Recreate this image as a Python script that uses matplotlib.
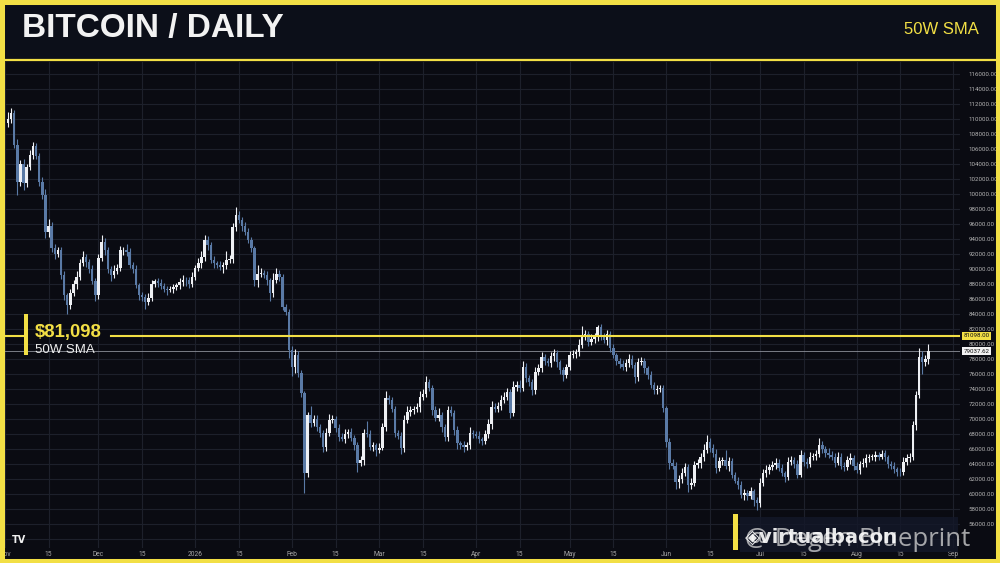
import matplotlib
matplotlib.use('Agg')
import matplotlib.pyplot as plt
import matplotlib.dates as mdates
from matplotlib.patches import Rectangle
from matplotlib.transforms import blended_transform_factory
import numpy as np
import pandas as pd

# daily closes, USD thousands, from 2 Nov 2025
closes = [
    110.0, 110.8, 106.5, 101.6, 104.0, 101.5, 103.6, 105.2, 106.4, 105.0,
    101.6, 99.9, 95.0, 95.8, 92.8, 92.0, 92.5, 89.2, 86.5, 85.2,
    86.8, 88.0, 89.0, 90.8, 91.6, 90.9, 90.0, 88.4, 86.5, 91.5,
    93.6, 92.5, 90.0, 89.2, 89.8, 90.2, 92.5, 92.6, 92.3, 90.5,
    90.0, 87.9, 86.5, 86.3, 85.6, 86.2, 88.0, 88.4, 88.2, 87.8,
    87.4, 87.2, 87.3, 87.6, 87.9, 88.3, 88.6, 88.5, 88.0, 89.0,
    90.1, 90.8, 91.6, 93.9, 93.2, 91.2, 90.8, 90.6, 90.3, 90.5,
    91.2, 91.4, 95.6, 97.2, 96.5, 95.7, 95.0, 93.9, 92.8, 88.5,
    89.4, 89.5, 89.2, 88.5, 86.8, 88.5, 89.4, 89.0, 85.0, 84.3,
    79.2, 77.0, 78.6, 76.1, 73.5, 62.8, 70.5, 69.5, 70.0, 69.0,
    68.1, 66.3, 68.2, 69.9, 70.0, 68.8, 67.6, 67.4, 68.0, 68.3,
    67.5, 66.5, 64.2, 64.5, 68.2, 68.0, 66.3, 66.5, 65.9, 66.2,
    69.0, 72.8, 72.5, 71.3, 68.2, 67.8, 66.1, 69.9, 71.0, 71.2,
    71.4, 71.6, 73.0, 73.4, 74.9, 74.2, 71.2, 70.2, 70.5, 69.0,
    67.6, 71.2, 70.8, 68.5, 66.8, 66.5, 66.3, 66.5, 68.1, 68.0,
    67.8, 67.3, 67.1, 68.0, 69.3, 71.6, 71.4, 71.8, 72.5, 73.0,
    73.6, 70.8, 74.3, 74.6, 74.2, 77.0, 75.5, 75.0, 73.9, 76.3,
    76.8, 78.3, 77.8, 77.5, 78.4, 78.8, 77.6, 76.5, 75.9, 77.0,
    78.5, 78.7, 78.9, 79.9, 81.0, 81.4, 80.3, 80.7, 81.0, 82.3,
    81.0, 80.5, 81.3, 79.5, 78.5, 77.8, 77.3, 77.0, 77.5, 78.0,
    77.2, 75.6, 77.6, 77.8, 76.8, 75.9, 74.5, 73.9, 74.0, 74.1,
    71.5, 66.9, 64.1, 63.8, 61.6, 62.0, 62.8, 63.6, 61.2, 61.5,
    63.9, 64.1, 64.9, 65.9, 67.0, 66.2, 65.4, 63.5, 64.4, 64.6,
    63.7, 64.4, 62.6, 61.8, 61.2, 59.9, 60.1, 59.8, 60.4, 59.2,
    58.8, 61.5, 62.8, 63.2, 63.6, 63.9, 64.2, 63.5, 62.8, 62.3,
    64.3, 64.6, 64.0, 62.6, 65.2, 64.3, 64.0, 65.0, 65.1, 65.3,
    66.5, 66.0, 65.5, 65.2, 65.0, 64.2, 65.0, 63.8, 63.6, 64.5,
    64.8, 63.8, 63.2, 64.0, 64.2, 64.8, 64.9, 65.0, 65.2, 65.0,
    65.4, 64.9, 64.0, 63.7, 63.3, 63.0, 62.9, 64.3, 64.8, 65.0,
    69.2, 73.2, 78.3, 77.6, 78.0, 79.03762,
]
first_open = 109.5

# wick lengths above / below the body, USD thousands
wick_up = [
    0.9, 0.6, 0.4, 0.8, 0.5, 0.7, 0.4, 0.6, 0.5, 0.4,
    0.5, 0.6, 0.7, 0.8, 0.5, 0.6, 0.4, 0.5, 0.6, 0.3,
    0.6, 0.5, 0.7, 0.6, 0.8, 0.4, 0.5, 0.6, 0.4, 0.5,
    0.9, 0.6, 0.5, 0.4, 0.7, 0.5, 0.6, 0.4, 0.8, 0.5,
    0.4, 0.6, 0.3, 0.5, 0.4, 0.6, 0.5, 0.3, 0.4, 0.5,
    0.4, 0.3, 0.5, 0.4, 0.3, 0.5, 0.6, 0.4, 0.5, 0.6,
    0.5, 0.7, 0.8, 0.6, 0.5, 0.4, 0.6, 0.3, 0.5, 0.4,
    1.2, 0.5, 0.6, 1.0, 0.5, 0.4, 0.6, 0.5, 0.4, 0.3,
    1.1, 0.6, 0.4, 0.5, 0.3, 1.0, 0.8, 0.5, 0.4, 0.3,
    0.4, 0.6, 0.8, 0.5, 0.4, 0.3, 0.5, 1.2, 0.6, 0.5,
    0.4, 0.5, 0.6, 0.8, 0.5, 0.4, 0.6, 0.5, 0.7, 0.4,
    0.5, 0.3, 0.4, 0.6, 0.5, 1.6, 0.5, 0.4, 0.3, 0.6,
    0.5, 0.9, 0.4, 0.5, 0.4, 0.3, 0.4, 0.6, 0.8, 0.5,
    0.4, 0.5, 0.7, 0.6, 0.9, 0.5, 0.4, 0.5, 1.0, 0.4,
    0.3, 0.6, 0.5, 0.4, 0.6, 0.3, 0.5, 0.4, 0.8, 0.5,
    0.4, 0.6, 0.3, 0.5, 0.7, 0.8, 0.6, 0.5, 0.7, 0.6,
    0.5, 0.4, 0.8, 0.5, 0.6, 0.7, 0.5, 0.4, 0.3, 0.6,
    0.5, 0.6, 0.4, 0.3, 0.5, 0.6, 0.4, 0.3, 0.5, 0.4,
    0.6, 0.5, 0.4, 0.8, 1.4, 0.5, 0.4, 0.6, 0.5, 0.3,
    0.4, 0.5, 0.6, 0.4, 0.5, 0.3, 0.4, 0.6, 0.5, 0.7,
    0.5, 0.4, 0.6, 0.5, 0.4, 0.3, 0.5, 0.4, 0.6, 0.5,
    0.4, 0.3, 0.5, 0.6, 0.4, 0.5, 0.7, 0.5, 0.4, 0.6,
    0.5, 0.6, 0.5, 0.8, 0.9, 0.5, 0.4, 0.6, 0.5, 0.4,
    1.3, 0.5, 0.4, 0.3, 0.4, 0.5, 0.6, 0.4, 0.5, 0.3,
    0.4, 0.6, 0.5, 0.7, 0.4, 0.5, 0.6, 0.4, 0.5, 0.3,
    0.6, 0.5, 0.4, 0.5, 0.7, 0.4, 0.5, 0.6, 0.4, 0.5,
    1.0, 0.5, 0.4, 0.6, 0.5, 0.4, 0.6, 0.5, 0.4, 0.5,
    0.6, 0.4, 0.5, 0.4, 0.6, 0.5, 0.4, 0.3, 0.5, 0.4,
    0.5, 0.4, 0.3, 0.4, 0.5, 0.3, 0.4, 0.6, 0.5, 0.4,
    0.6, 0.5, 1.2, 0.8, 0.6, 1.0,
]
wick_dn = [
    0.6, 0.5, 0.4, 1.8, 0.5, 1.0, 0.6, 0.4, 0.5, 0.4,
    0.5, 0.6, 0.9, 0.7, 0.5, 0.6, 0.4, 0.5, 0.6, 1.2,
    0.5, 0.4, 0.6, 0.5, 0.4, 0.6, 0.5, 0.4, 0.7, 0.5,
    0.4, 0.6, 0.5, 0.8, 0.4, 0.5, 0.4, 0.6, 0.5, 0.4,
    0.5, 0.4, 0.6, 0.5, 0.9, 0.4, 0.5, 0.4, 0.6, 0.5,
    0.4, 0.6, 0.3, 0.5, 0.4, 0.6, 0.5, 0.7, 0.5, 0.4,
    0.5, 0.4, 0.6, 0.5, 0.7, 0.4, 0.6, 0.5, 0.4, 0.8,
    0.5, 0.4, 0.6, 0.5, 0.4, 0.6, 0.5, 0.4, 0.5, 0.8,
    0.9, 0.5, 0.4, 0.6, 1.0, 0.5, 0.4, 0.6, 0.5, 0.4,
    1.0, 1.2, 0.8, 0.5, 0.6, 2.7, 0.6, 0.5, 0.4, 0.6,
    0.5, 0.7, 0.6, 0.5, 0.4, 0.6, 0.5, 0.4, 0.6, 0.5,
    0.4, 0.6, 1.3, 0.5, 0.6, 0.4, 0.5, 0.6, 0.9, 0.5,
    0.4, 0.6, 0.5, 0.4, 0.6, 0.5, 0.8, 0.5, 0.4, 0.6,
    0.5, 0.4, 0.6, 0.5, 0.4, 0.5, 0.6, 0.4, 0.5, 0.7,
    0.6, 0.5, 0.4, 0.6, 0.8, 0.5, 0.7, 0.4, 0.5, 0.6,
    0.4, 0.5, 0.6, 0.4, 0.5, 0.6, 0.4, 0.5, 0.6, 0.4,
    0.5, 0.6, 0.4, 0.5, 0.6, 0.4, 0.5, 0.6, 0.7, 0.5,
    0.4, 0.5, 0.6, 0.4, 0.5, 0.6, 0.7, 0.5, 0.8, 0.4,
    0.5, 0.4, 0.6, 0.5, 0.4, 0.5, 0.6, 0.4, 0.5, 0.6,
    0.5, 0.4, 0.6, 0.5, 0.4, 0.6, 0.5, 0.4, 0.6, 0.5,
    0.4, 0.8, 0.5, 0.4, 0.6, 0.5, 0.4, 0.6, 0.5, 0.4,
    0.5, 0.6, 0.7, 0.5, 0.9, 0.8, 0.5, 0.4, 0.9, 0.6,
    0.5, 0.4, 0.6, 0.5, 0.4, 0.6, 0.5, 0.7, 0.4, 0.5,
    0.4, 0.6, 0.5, 0.4, 0.6, 0.5, 0.7, 0.6, 0.5, 0.8,
    1.0, 0.5, 0.4, 0.6, 0.5, 0.4, 0.6, 0.5, 0.4, 0.7,
    0.5, 0.4, 0.6, 0.5, 0.4, 0.6, 0.5, 0.4, 0.5, 0.6,
    0.4, 0.5, 0.6, 0.4, 0.5, 0.6, 0.4, 0.5, 0.6, 0.4,
    0.5, 0.6, 0.4, 0.5, 0.4, 0.6, 0.5, 0.4, 0.6, 0.5,
    0.4, 0.5, 0.6, 0.4, 0.5, 0.6, 0.5, 0.4, 0.5, 0.6,
    0.5, 0.6, 0.4, 1.6, 0.5, 0.7,
]

start_date = '2025-11-02'
sma_50w = 81098.00
last_price = 79037.62
y_ticks = list(range(56000, 116001, 2000))
x_tick_dates = ['2025-11-01', '2025-11-15', '2025-12-01', '2025-12-15', '2026-01-01',
                '2026-01-15', '2026-02-01', '2026-02-15', '2026-03-01', '2026-03-15',
                '2026-04-01', '2026-04-15', '2026-05-01', '2026-05-15', '2026-06-01',
                '2026-06-15', '2026-07-01', '2026-07-15', '2026-08-01', '2026-08-15',
                '2026-09-01']
x_tick_labels = ['Nov', '15', 'Dec', '15', '2026', '15', 'Feb', '15', 'Mar', '15',
                 'Apr', '15', 'May', '15', 'Jun', '15', 'Jul', '15', 'Aug', '15', 'Sep']

BG = '#0a0b12'
YELLOW = '#f2df45'
UP = '#eef0f4'
DOWN = '#5a7aa6'
GRID = '#1d202b'

c = np.array(closes) * 1000
o = np.concatenate([[first_open * 1000], c[:-1]])
hi = np.maximum(o, c) + np.array(wick_up) * 1000
lo = np.minimum(o, c) - np.array(wick_dn) * 1000
dates = pd.date_range(start_date, periods=len(c), freq='D')
x = mdates.date2num(dates)
up = c >= o
cols = np.where(up, UP, DOWN)

W, H = 1000, 563
def fx(px):
    return px / W
def fy(py):
    return 1 - py / H

fig = plt.figure(figsize=(10, 5.63), dpi=100, facecolor=BG)

ax = fig.add_axes([fx(4), fy(548), fx(956), (548 - 62) / H])
ax.set_facecolor(BG)
for s in ax.spines.values():
    s.set_visible(False)

ax.vlines(x, lo, hi, colors=cols, lw=0.8, zorder=3)
body = np.maximum(np.abs(c - o), 100)
ax.bar(x, body, bottom=np.minimum(o, c), width=0.78, color=cols, lw=0, zorder=4)

x0 = mdates.date2num(pd.Timestamp(start_date)) - 1.28
ax.set_xlim(x0, x0 + 306.4)
ax.set_ylim(52800, 117600)

ax.yaxis.tick_right()
ax.set_yticks(y_ticks)
ax.set_yticklabels([f'{v:.2f}' for v in y_ticks])
ax.set_xticks(mdates.date2num(pd.to_datetime(x_tick_dates)))
ax.set_xticklabels(x_tick_labels)
ax.tick_params(axis='y', length=0, pad=6, labelsize=4.4, labelcolor='#b5b5b5')
ax.tick_params(axis='x', length=0, pad=2.5, labelsize=4.8, labelcolor='#a8a8a8')
for lab in ax.get_xticklabels() + ax.get_yticklabels():
    lab.set_family('Roboto')
ax.grid(True, color=GRID, lw=0.8, zorder=0)
ax.axhline(54000, color=GRID, lw=0.8, zorder=0)
ax.set_axisbelow(True)

# 50W SMA and last price lines
tr = blended_transform_factory(ax.transAxes, ax.transData)
ax.plot([-0.01, 0.023], [sma_50w, sma_50w], color=YELLOW, lw=1.5, transform=tr, clip_on=False, zorder=5)
ax.plot([0.112, 1.0], [sma_50w, sma_50w], color=YELLOW, lw=1.5, transform=tr, zorder=5)
ax.axhline(last_price, color='#8c8f98', lw=0.6, zorder=2)
ax.text(1.004, sma_50w, f'{sma_50w:.2f}', transform=tr, fontsize=4.4, family='Roboto',
        color='#111111', va='center', ha='left',
        bbox=dict(boxstyle='square,pad=0.25', fc=YELLOW, ec='none'), zorder=6)
ax.text(1.004, last_price, f'{last_price:.2f}', transform=tr, fontsize=4.4, family='Roboto',
        color='#111111', va='center', ha='left',
        bbox=dict(boxstyle='square,pad=0.25', fc='#f2f2f2', ec='none'), zorder=6)

# header
fig.add_artist(Rectangle((0, fy(60)), 1, 60 / H, transform=fig.transFigure,
                         fc='#0c0f19', ec='none', zorder=1))
fig.add_artist(plt.Line2D([0, 1], [fy(60), fy(60)], transform=fig.transFigure,
                          color=YELLOW, lw=1.6, zorder=2))
fig.text(fx(22), fy(29), 'BITCOIN / DAILY', fontsize=24, fontweight='bold',
         family='Liberation Sans', color='#f2f2f2', va='center', ha='left', zorder=3)
fig.text(fx(979), fy(29), '50W SMA', fontsize=12, family='Liberation Sans',
         color=YELLOW, va='center', ha='right', zorder=3)

# SMA label on the left
fig.add_artist(Rectangle((fx(24), fy(355)), fx(4), 41 / H, transform=fig.transFigure,
                         fc=YELLOW, ec='none', zorder=6))
fig.text(fx(35), fy(333), '$81,098', fontsize=13.3, fontweight='bold',
         family='Liberation Sans', color=YELLOW, va='center', ha='left', zorder=6)
fig.text(fx(35), fy(350), '50W SMA', fontsize=9.5, family='Liberation Sans',
         color='#eeeeee', va='center', ha='left', zorder=6)

# watermark
fig.add_artist(Rectangle((fx(740), fy(552)), fx(218), 35 / H, transform=fig.transFigure,
                         fc='#131829', ec='none', alpha=0.8, zorder=7))
fig.add_artist(Rectangle((fx(733), fy(550)), fx(5), 36 / H, transform=fig.transFigure,
                         fc=YELLOW, ec='none', zorder=8))
fig.text(fx(745), fy(540), '@ Degen Blueprint', fontsize=18.5, family='Open Sans',
         color='#d8d8d8', alpha=0.75, va='center', ha='left', zorder=8)
fig.text(fx(745), fy(537), '\u25c8virtualbacon', fontsize=14, fontweight='bold',
         family='DejaVu Sans', color='#ffffff', alpha=0.9, va='center', ha='left', zorder=9)

# TradingView mark
fig.text(fx(12), fy(540), 'TV', fontsize=7, fontweight='bold', family='DejaVu Sans',
         color='#f0f0f0', va='center', ha='left', zorder=8)

# yellow frame
fig.add_artist(Rectangle((0, 0), 1, 1, transform=fig.transFigure, fill=False,
                         ec=YELLOW, lw=6.5, zorder=20))

fig.savefig('out.png', dpi=100, facecolor=BG)
